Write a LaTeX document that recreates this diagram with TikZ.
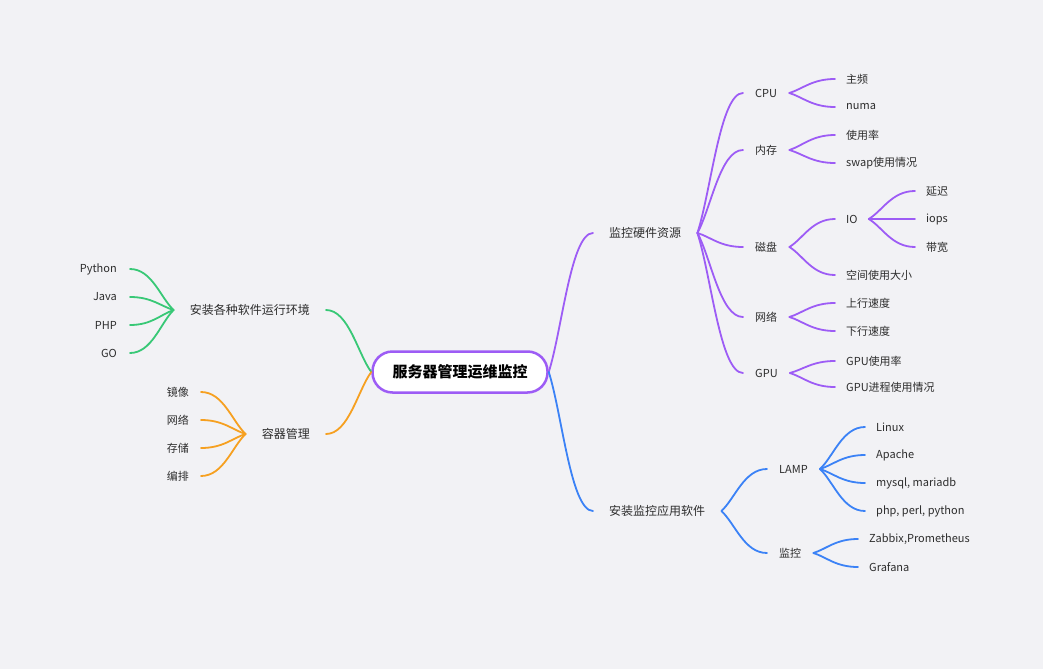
\documentclass[tikz,border=0pt]{standalone}
\usepackage{fontspec}
\setmainfont{Noto Sans CJK SC}
\usetikzlibrary{calc}

\definecolor{bgcol}{RGB}{242,242,245}
\definecolor{hwcol}{RGB}{157,92,245}
\definecolor{appcol}{RGB}{59,130,246}
\definecolor{envcol}{RGB}{56,200,118}
\definecolor{ctrcol}{RGB}{246,160,32}
\definecolor{txtcol}{RGB}{45,45,45}

\begin{document}
\begin{tikzpicture}[x=1pt, y=-1pt]

		\tikzstyle{root} = [rectangle, draw=hwcol, line width=2.5pt, fill=white, rounded corners=20pt, minimum width=175pt, minimum height=41pt, font=\fontsize{15}{18}\selectfont\bfseries, text=black]
		\tikzstyle{lvone} = [inner xsep=16pt, inner ysep=2pt, font=\fontsize{12}{14}\selectfont, text=txtcol]
		\tikzstyle{lvtwo} = [inner xsep=12pt, inner ysep=2pt, font=\fontsize{11}{13}\selectfont, text=txtcol]
		\tikzstyle{leaf} = [inner xsep=11pt, inner ysep=2pt, font=\fontsize{11}{13}\selectfont, text=txtcol]
		\tikzstyle{link} = [line width=1.8pt, line cap=round, to path={.. controls ($(\tikztostart)!0.3!(\tikztotarget)$) and ($(\tikztotarget)!0.5!(\tikztostart |- \tikztotarget)$) .. (\tikztotarget)}]

		\fill[bgcol] (0,0) rectangle (1043,669);

		% Define nodes
		\node[root] (root) at (460,372) {服务器管理运维监控};
		\node[lvone, anchor=west] (hw) at (593,233) {监控硬件资源};
		\node[lvone, anchor=west] (app) at (593,511) {安装监控应用软件};
		\node[lvone, anchor=east] (env) at (326,310) {安装各种软件运行环境};
		\node[lvone, anchor=east] (ctr) at (326,434) {容器管理};

		\node[lvtwo, anchor=west] (cpu) at (743,93) {CPU};
		\node[lvtwo, anchor=west] (mem) at (743,150) {内存};
		\node[lvtwo, anchor=west] (disk) at (743,247) {磁盘};
		\node[lvtwo, anchor=west] (net) at (743,317) {网络};
		\node[lvtwo, anchor=west] (gpu) at (743,373) {GPU};
		\node[lvtwo, anchor=west] (lamp) at (767,469) {LAMP};
		\node[lvtwo, anchor=west] (mon) at (767,553) {监控};

		\node[leaf, anchor=west] (freq) at (835,79) {主频};
		\node[leaf, anchor=west] (numa) at (835,107) {numa};
		\node[leaf, anchor=west] (usage) at (835,135) {使用率};
		\node[leaf, anchor=west] (swap) at (835,163) {swap使用情况};
		\node[leaf, anchor=west] (io) at (835,219) {IO};
		\node[leaf, anchor=west] (space) at (835,275) {空间使用大小};
		\node[leaf, anchor=west] (lat) at (915,191) {延迟};
		\node[leaf, anchor=west] (iops) at (915,219) {iops};
		\node[leaf, anchor=west] (bw) at (915,247) {带宽};
		\node[leaf, anchor=west] (up) at (835,303) {上行速度};
		\node[leaf, anchor=west] (down) at (835,331) {下行速度};
		\node[leaf, anchor=west] (gpuuse) at (835,361) {GPU使用率};
		\node[leaf, anchor=west] (gpuproc) at (835,387) {GPU进程使用情况};

		\node[leaf, anchor=west] (linux) at (865,427) {Linux};
		\node[leaf, anchor=west] (apache) at (865,455) {Apache};
		\node[leaf, anchor=west] (mysql) at (865,483) {mysql, mariadb};
		\node[leaf, anchor=west] (php) at (865,511) {php, perl, python};
		\node[leaf, anchor=west] (zabbix) at (858,539) {Zabbix,Prometheus};
		\node[leaf, anchor=west] (grafana) at (858,567) {Grafana};

		\node[leaf, anchor=east, inner xsep=13pt] (python) at (130,269) {Python};
		\node[leaf, anchor=east, inner xsep=13pt] (java) at (130,297) {Java};
		\node[leaf, anchor=east, inner xsep=13pt] (phplang) at (130,325) {PHP};
		\node[leaf, anchor=east, inner xsep=13pt] (golang) at (130,353) {GO};

		\node[leaf, anchor=east, inner xsep=12pt] (image) at (201,392) {镜像};
		\node[leaf, anchor=east, inner xsep=12pt] (cnet) at (201,420) {网络};
		\node[leaf, anchor=east, inner xsep=12pt] (store) at (201,448) {存储};
		\node[leaf, anchor=east, inner xsep=12pt] (orch) at (201,476) {编排};

		% Draw connectors
		\draw[link, hwcol] (root.east) to (hw.west);
		\draw[link, appcol] (root.east) to (app.west);
		\draw[link, envcol] (root.west) to (env.east);
		\draw[link, ctrcol] (root.west) to (ctr.east);

		\draw[link, hwcol] (hw.east) to (cpu.west);
		\draw[link, hwcol] (hw.east) to (mem.west);
		\draw[link, hwcol] (hw.east) to (disk.west);
		\draw[link, hwcol] (hw.east) to (net.west);
		\draw[link, hwcol] (hw.east) to (gpu.west);

		\draw[link, hwcol] (cpu.east) to (freq.west);
		\draw[link, hwcol] (cpu.east) to (numa.west);
		\draw[link, hwcol] (mem.east) to (usage.west);
		\draw[link, hwcol] (mem.east) to (swap.west);
		\draw[link, hwcol] (disk.east) to (io.west);
		\draw[link, hwcol] (disk.east) to (space.west);
		\draw[link, hwcol] (io.east) to (lat.west);
		\draw[link, hwcol] (io.east) to (iops.west);
		\draw[link, hwcol] (io.east) to (bw.west);
		\draw[link, hwcol] (net.east) to (up.west);
		\draw[link, hwcol] (net.east) to (down.west);
		\draw[link, hwcol] (gpu.east) to (gpuuse.west);
		\draw[link, hwcol] (gpu.east) to (gpuproc.west);

		\draw[link, appcol] (app.east) to (lamp.west);
		\draw[link, appcol] (app.east) to (mon.west);
		\draw[link, appcol] (lamp.east) to (linux.west);
		\draw[link, appcol] (lamp.east) to (apache.west);
		\draw[link, appcol] (lamp.east) to (mysql.west);
		\draw[link, appcol] (lamp.east) to (php.west);
		\draw[link, appcol] (mon.east) to (zabbix.west);
		\draw[link, appcol] (mon.east) to (grafana.west);

		\draw[link, envcol] (env.west) to (python.east);
		\draw[link, envcol] (env.west) to (java.east);
		\draw[link, envcol] (env.west) to (phplang.east);
		\draw[link, envcol] (env.west) to (golang.east);

		\draw[link, ctrcol] (ctr.west) to (image.east);
		\draw[link, ctrcol] (ctr.west) to (cnet.east);
		\draw[link, ctrcol] (ctr.west) to (store.east);
		\draw[link, ctrcol] (ctr.west) to (orch.east);

	\end{tikzpicture}
\end{document}
